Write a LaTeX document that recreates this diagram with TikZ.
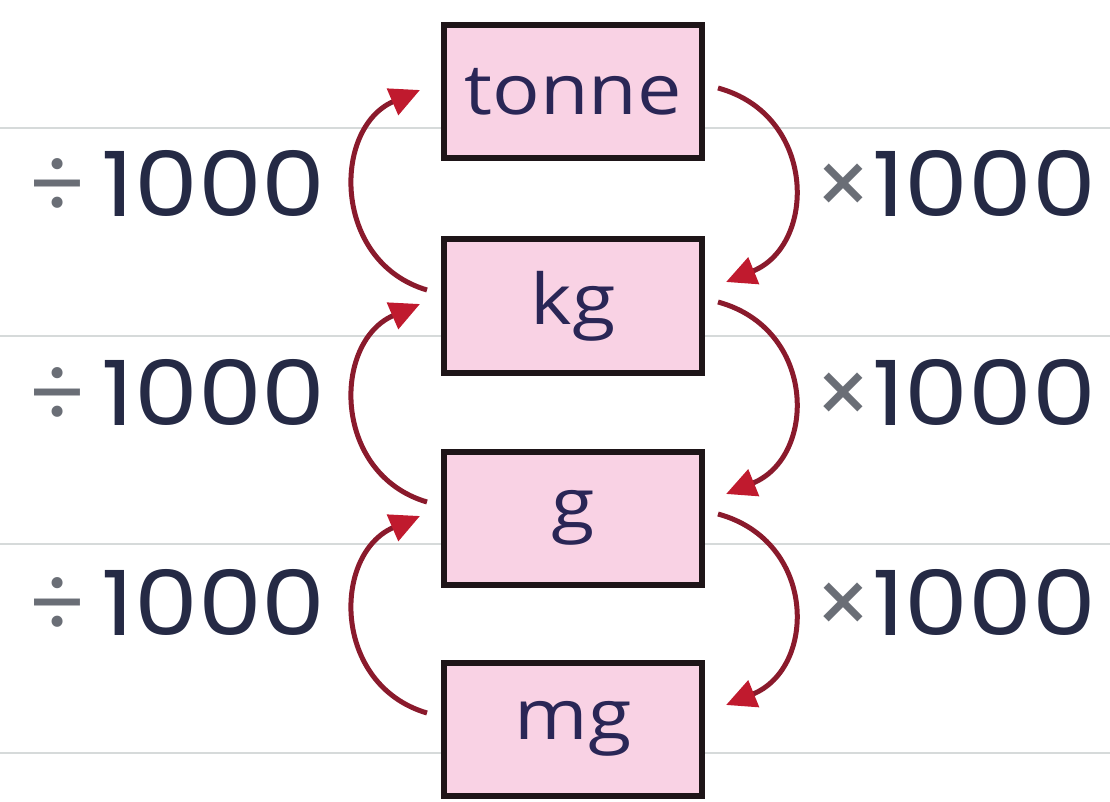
\documentclass[tikz,border=0pt]{standalone}
\usepackage{fontspec}
\setmainfont{Poppins}
\newfontfamily\unitfont{Open Sans}
\usetikzlibrary{arrows.meta}
\definecolor{boxpink}{HTML}{F9D2E4}
\definecolor{boxedge}{HTML}{1E1518}
\definecolor{inkblue}{HTML}{2A2656}
\definecolor{numink}{HTML}{252A45}
\definecolor{opgray}{HTML}{6A6E76}
\definecolor{arrowred}{HTML}{8A1A2C}
\definecolor{headred}{HTML}{C01A2E}
\definecolor{rulegray}{HTML}{D6DADA}
\newcommand{\wide}[1]{\scalebox{1.13}[1]{#1}}
\tikzset{
  unitbox/.style={draw=boxedge, line width=6pt, fill=boxpink, minimum width=258pt,
    minimum height=133pt, inner sep=0pt, font=\unitfont\fontsize{70}{70}\selectfont, text=inkblue},
  factor/.style={font=\fontsize{90}{90}\selectfont, text=numink, inner sep=0pt},
  conv/.style={draw=arrowred, line width=5pt,
    -{Triangle[length=30pt, width=28pt, fill=headred, color=headred]}},
  rule/.style={draw=rulegray, line width=2.5pt}
}
\begin{document}
\begin{tikzpicture}[x=1pt, y=-1pt]
  \useasboundingbox (0,0) rectangle (1110,802);
  % ruled lines behind the boxes
  \foreach \yy in {128,336,544,753} \draw[rule] (0,\yy) -- (1110,\yy);
  % unit boxes
  \node[unitbox] (tonne) at (573,92)  {\wide{tonne}};
  \node[unitbox] (kg)    at (573,306) {\wide{kg}};
  \node[unitbox] (g)     at (573,518) {\wide{g}};
  \node[unitbox] (mg)    at (573,729) {\wide{mg}};
  % factor labels
  \node[factor, anchor=east] (d1) at (326,183) {{\color{opgray}÷}\,\wide{1000}};
  \node[factor, anchor=east] (d2) at (326,392) {{\color{opgray}÷}\,\wide{1000}};
  \node[factor, anchor=east] (d3) at (326,602) {{\color{opgray}÷}\,\wide{1000}};
  \node[factor, anchor=west] (m1) at (814,183) {{\color{opgray}×}\wide{1000}};
  \node[factor, anchor=west] (m2) at (814,392) {{\color{opgray}×}\wide{1000}};
  \node[factor, anchor=west] (m3) at (814,602) {{\color{opgray}×}\wide{1000}};
  % connector ends on the box sides
  \coordinate (kgTL) at ([xshift=-14pt,yshift=16pt]kg.west);
  \coordinate (gTL)  at ([xshift=-14pt,yshift=16pt]g.west);
  \coordinate (mgTL) at ([xshift=-14pt,yshift=16pt]mg.west);
  \coordinate (tonneL) at ([xshift=-21pt,yshift=2pt]tonne.west);
  \coordinate (kgL)    at ([xshift=-21pt,yshift=2pt]kg.west);
  \coordinate (gL)     at ([xshift=-21pt,yshift=2pt]g.west);
  \coordinate (tonneR) at ([xshift=13pt,yshift=4pt]tonne.east);
  \coordinate (kgR)    at ([xshift=13pt,yshift=4pt]kg.east);
  \coordinate (gR)     at ([xshift=13pt,yshift=4pt]g.east);
  \coordinate (kgRt) at ([xshift=21pt,yshift=24pt]kg.east);
  \coordinate (gRt)  at ([xshift=21pt,yshift=24pt]g.east);
  \coordinate (mgRt) at ([xshift=21pt,yshift=24pt]mg.east);
  % dividing: up the left side
  \draw[conv] (kgTL) .. controls +(-95,-28) and +(-88,38) .. (tonneL);
  \draw[conv] (gTL)  .. controls +(-95,-28) and +(-88,38) .. (kgL);
  \draw[conv] (mgTL) .. controls +(-95,-28) and +(-88,38) .. (gL);
  % multiplying: down the right side
  \draw[conv] (tonneR) .. controls +(99,27) and +(91,-37) .. (kgRt);
  \draw[conv] (kgR)    .. controls +(99,27) and +(91,-37) .. (gRt);
  \draw[conv] (gR)     .. controls +(99,27) and +(91,-37) .. (mgRt);
\end{tikzpicture}
\end{document}
